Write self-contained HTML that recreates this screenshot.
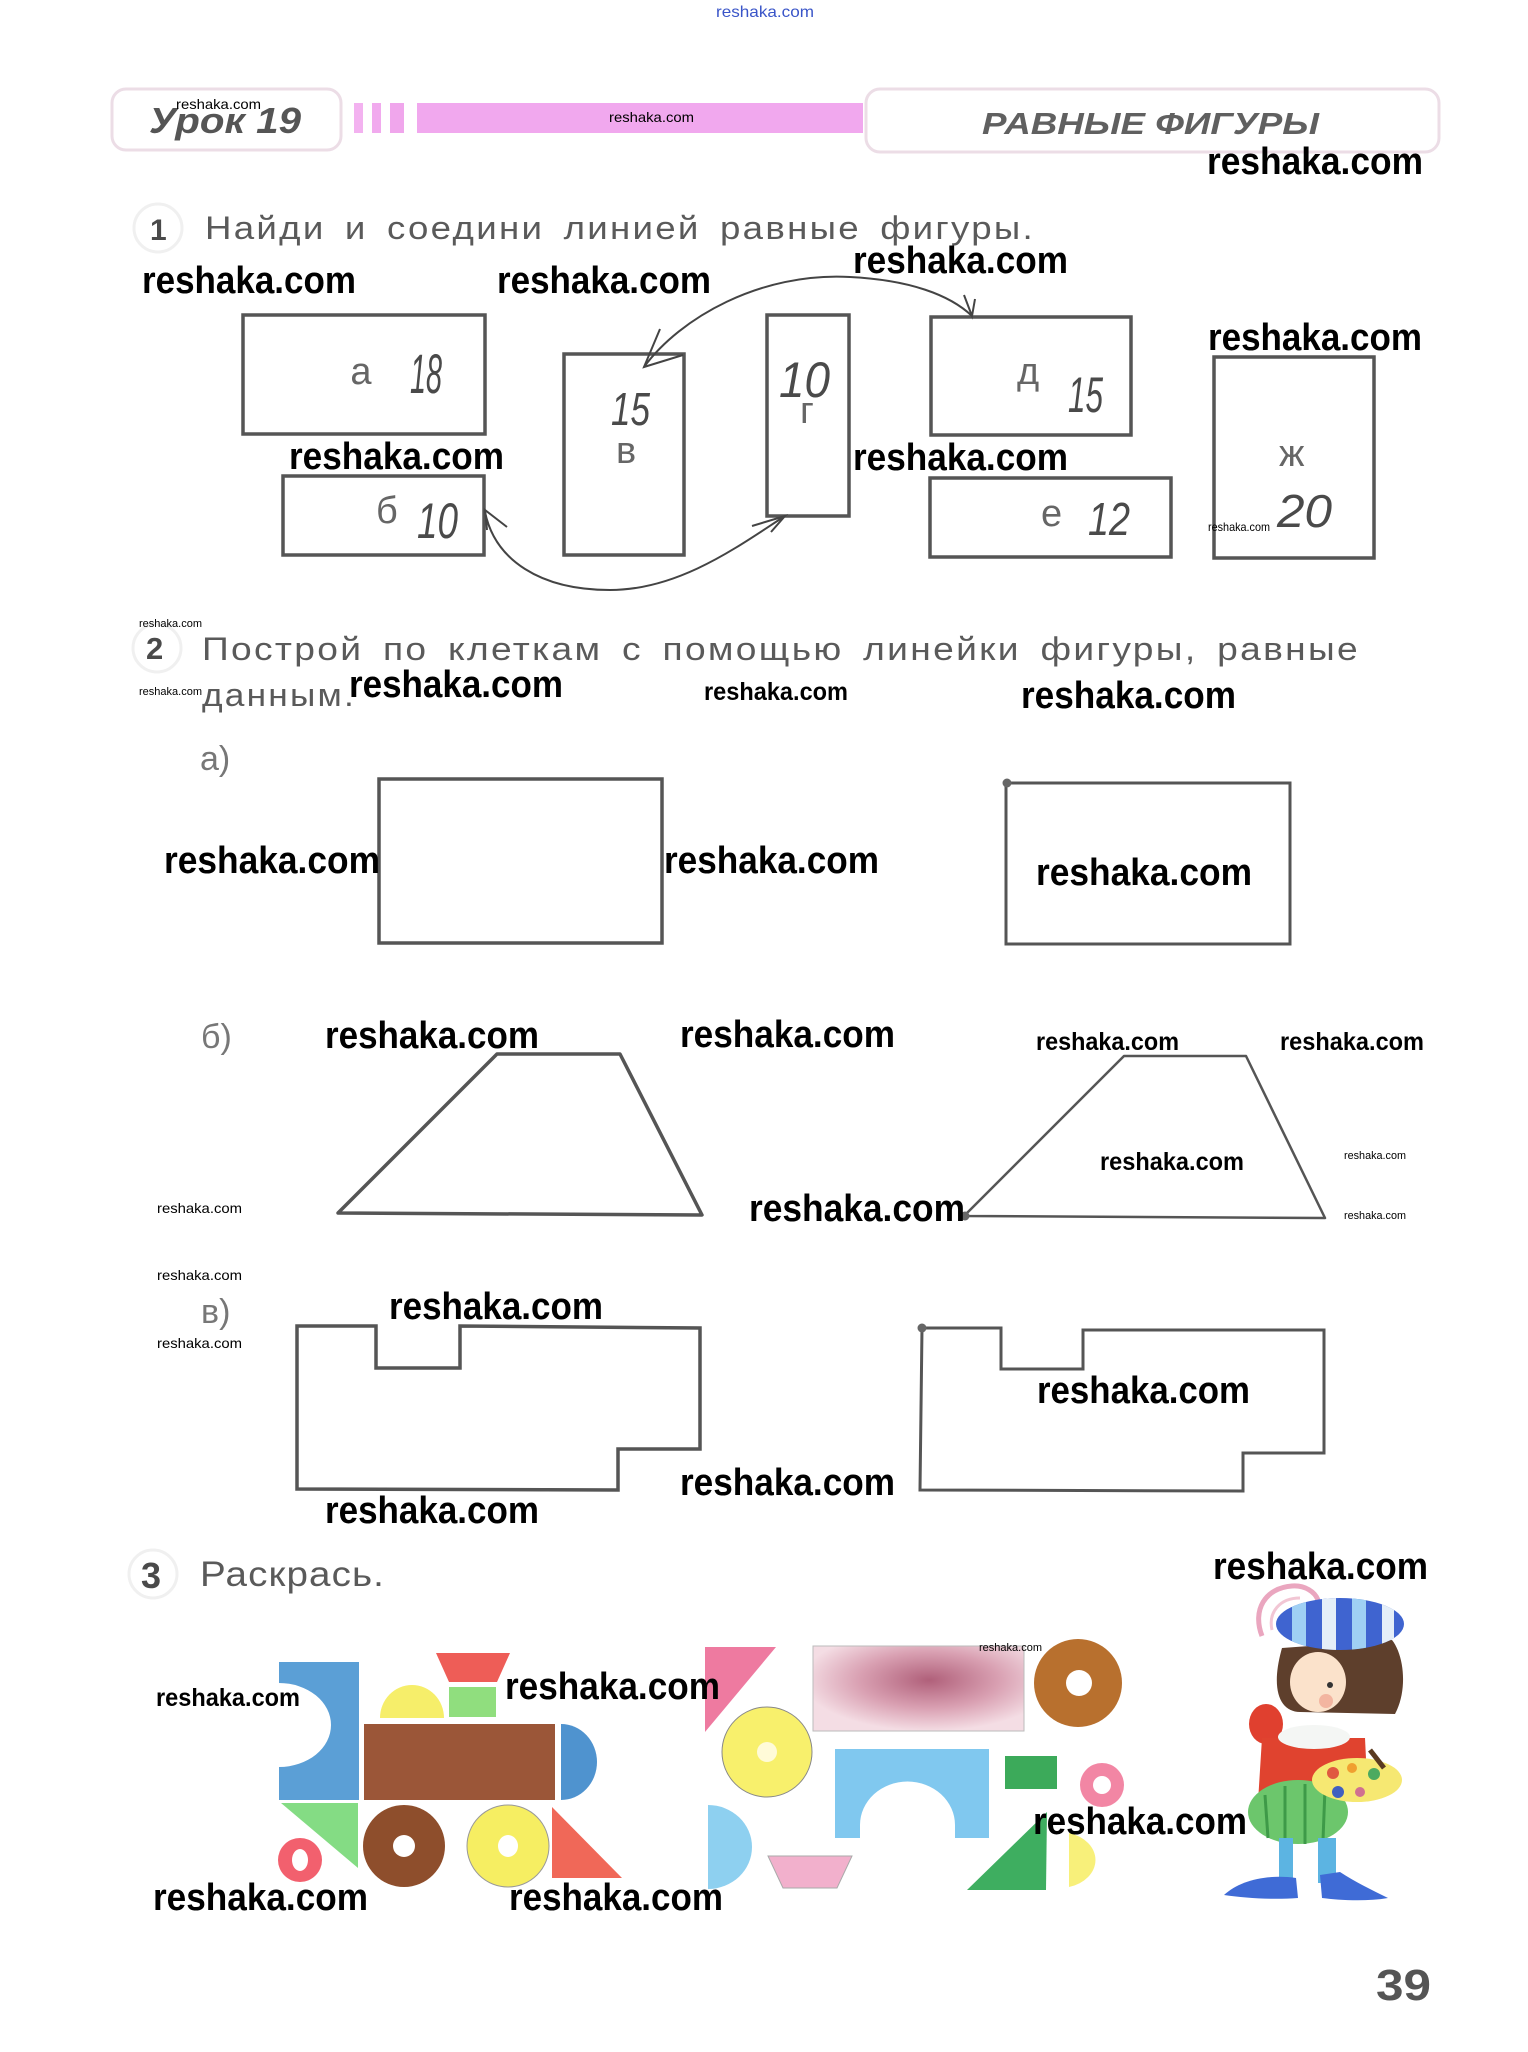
<!DOCTYPE html>
<html><head><meta charset="utf-8"><style>
html,body{margin:0;padding:0;background:#fff;}
svg{display:block;}
.wm{font-family:"Liberation Sans",sans-serif;font-weight:bold;fill:#000;}
.ws{font-family:"Liberation Sans",sans-serif;fill:#000;}
.ru{font-family:"Liberation Sans","Noto Sans CJK SC",sans-serif;fill:#5a5a5a;}
.lt{font-family:"Liberation Sans",sans-serif;fill:#666;}
.hw{font-family:"Liberation Sans",sans-serif;font-style:italic;fill:#4a4a4a;}
</style></head><body>
<svg width="1528" height="2052" viewBox="0 0 1528 2052" xmlns="http://www.w3.org/2000/svg">
<rect width="1528" height="2052" fill="#fff"/>

<!-- top link -->
<text x="716" y="17" class="ws" font-size="16" style="fill:#3a55c8" textLength="98" lengthAdjust="spacingAndGlyphs">reshaka.com</text>

<!-- header -->
<rect x="112" y="89" width="229" height="61" rx="14" fill="#fff" stroke="#ecdde6" stroke-width="3"/>
<rect x="866" y="89" width="573" height="63" rx="14" fill="#fff" stroke="#ecdde6" stroke-width="3"/>
<rect x="354" y="103" width="9" height="30" fill="#f3b2f0"/>
<rect x="372" y="103" width="9" height="30" fill="#f1aaee"/>
<rect x="390" y="103" width="14" height="30" fill="#f0a6ec"/>
<rect x="417" y="103" width="446" height="30" fill="#f1a8ee"/>
<text x="149" y="133" class="ru" font-size="36" font-weight="bold" font-style="italic" style="fill:#555" textLength="152" lengthAdjust="spacingAndGlyphs">Урок 19</text>
<text x="176" y="109" class="ws" font-size="14" textLength="85" lengthAdjust="spacingAndGlyphs">reshaka.com</text>
<text x="609" y="122" class="ws" font-size="14" textLength="85" lengthAdjust="spacingAndGlyphs">reshaka.com</text>
<text x="982" y="134" class="ru" font-size="31" font-weight="bold" font-style="italic" style="fill:#606060" textLength="337" lengthAdjust="spacingAndGlyphs">РАВНЫЕ ФИГУРЫ</text>
<text x="1207" y="174" class="wm" font-size="38" textLength="216" lengthAdjust="spacingAndGlyphs">reshaka.com</text>

<!-- section 1 -->
<circle cx="158" cy="228" r="24" fill="none" stroke="#f0f0f0" stroke-width="3"/>
<text x="150" y="240" class="ru" font-size="30" font-weight="bold" style="fill:#4a4a4a">1</text>
<text x="205" y="239" class="ru" font-size="32" letter-spacing="2" word-spacing="6" textLength="830" lengthAdjust="spacingAndGlyphs">Найди и соедини линией равные фигуры.</text>

<text x="142" y="293" class="wm" font-size="38" textLength="214" lengthAdjust="spacingAndGlyphs">reshaka.com</text>
<text x="497" y="293" class="wm" font-size="38" textLength="214" lengthAdjust="spacingAndGlyphs">reshaka.com</text>
<text x="853" y="273" class="wm" font-size="38" textLength="215" lengthAdjust="spacingAndGlyphs">reshaka.com</text>
<text x="1208" y="350" class="wm" font-size="38" textLength="214" lengthAdjust="spacingAndGlyphs">reshaka.com</text>
<text x="289" y="469" class="wm" font-size="38" textLength="215" lengthAdjust="spacingAndGlyphs">reshaka.com</text>
<text x="853" y="470" class="wm" font-size="38" textLength="215" lengthAdjust="spacingAndGlyphs">reshaka.com</text>

<g fill="none" stroke="#555" stroke-width="3.5">
<rect x="243" y="315" width="242" height="119"/>
<rect x="283" y="476" width="201" height="79"/>
<rect x="564" y="354" width="120" height="201"/>
<rect x="767" y="315" width="82" height="201"/>
<rect x="931" y="317" width="200" height="118"/>
<rect x="930" y="478" width="241" height="79"/>
<rect x="1214" y="357" width="160" height="201"/>
</g>

<text x="361" y="384" class="lt" font-size="38" text-anchor="middle">а</text>
<text x="376" y="523" class="lt" font-size="38">б</text>
<text x="616" y="463" class="lt" font-size="38">в</text>
<text x="800" y="423" class="lt" font-size="38">г</text>
<text x="1017" y="384" class="lt" font-size="38">д</text>
<text x="1041" y="526" class="lt" font-size="38">е</text>
<text x="1279" y="466" class="lt" font-size="38">ж</text>

<text x="410" y="393" class="hw" font-size="56" textLength="32" lengthAdjust="spacingAndGlyphs">18</text>
<text x="611" y="425" class="hw" font-size="46" textLength="39" lengthAdjust="spacingAndGlyphs">15</text>
<text x="417" y="538" class="hw" font-size="50" textLength="41" lengthAdjust="spacingAndGlyphs">10</text>
<text x="779" y="397" class="hw" font-size="50" textLength="51" lengthAdjust="spacingAndGlyphs">10</text>
<text x="1068" y="412" class="hw" font-size="50" textLength="35" lengthAdjust="spacingAndGlyphs">15</text>
<text x="1088" y="535" class="hw" font-size="46" textLength="42" lengthAdjust="spacingAndGlyphs">12</text>
<text x="1277" y="527" class="hw" font-size="46" textLength="55" lengthAdjust="spacingAndGlyphs">20</text>
<text x="1208" y="531" class="ws" font-size="12" textLength="62" lengthAdjust="spacingAndGlyphs">reshaka.com</text>

<!-- connectors -->
<g fill="none" stroke="#444" stroke-width="2">
<path d="M644,367 C680,318 760,272 850,277 C910,280 950,295 972,316"/>
<path d="M660,329 L644,367 L683,355"/>
<path d="M964,295 L972,316 L975,299"/>
<path d="M485,512 C495,560 540,590 610,590 C680,590 740,545 785,516"/>
<path d="M507,527 L485,510 L487,530"/>
<path d="M752,526 L785,516 L771,532"/>
</g>

<!-- section 2 -->
<circle cx="157" cy="648" r="24" fill="none" stroke="#f0f0f0" stroke-width="3"/>
<text x="146" y="659" class="ru" font-size="31" font-weight="bold" style="fill:#4a4a4a">2</text>
<text x="202" y="660" class="ru" font-size="32" letter-spacing="2" word-spacing="6" textLength="1158" lengthAdjust="spacingAndGlyphs">Построй по клеткам с помощью линейки фигуры, равные</text>
<text x="202" y="706" class="ru" font-size="32" letter-spacing="2" textLength="154" lengthAdjust="spacingAndGlyphs">данным.</text>
<text x="139" y="627" class="ws" font-size="11" textLength="63" lengthAdjust="spacingAndGlyphs">reshaka.com</text>
<text x="139" y="695" class="ws" font-size="11" textLength="63" lengthAdjust="spacingAndGlyphs">reshaka.com</text>
<text x="349" y="697" class="wm" font-size="38" textLength="214" lengthAdjust="spacingAndGlyphs">reshaka.com</text>
<text x="704" y="700" class="wm" font-size="25" textLength="144" lengthAdjust="spacingAndGlyphs">reshaka.com</text>
<text x="1021" y="708" class="wm" font-size="38" textLength="215" lengthAdjust="spacingAndGlyphs">reshaka.com</text>

<text x="200" y="770" class="lt" font-size="34" style="fill:#777">а)</text>
<g fill="none" stroke="#555" stroke-width="3.5">
<rect x="379" y="779" width="283" height="164"/>
</g>
<g fill="none" stroke="#555" stroke-width="3">
<rect x="1006" y="783" width="284" height="161"/>
</g>
<circle cx="1007" cy="783" r="4.5" fill="#666"/>
<text x="164" y="873" class="wm" font-size="38" textLength="216" lengthAdjust="spacingAndGlyphs">reshaka.com</text>
<text x="664" y="873" class="wm" font-size="38" textLength="215" lengthAdjust="spacingAndGlyphs">reshaka.com</text>
<text x="1036" y="885" class="wm" font-size="38" textLength="216" lengthAdjust="spacingAndGlyphs">reshaka.com</text>

<text x="201" y="1048" class="lt" font-size="34" style="fill:#777">б)</text>
<polygon points="497,1054 620,1054 702,1215 338,1213" fill="none" stroke="#555" stroke-width="3.5" stroke-linejoin="round"/>
<polygon points="1124,1056 1246,1056 1325,1218 964,1216" fill="none" stroke="#555" stroke-width="2.5" stroke-linejoin="round"/>
<circle cx="965" cy="1216" r="4.5" fill="#666"/>
<text x="325" y="1048" class="wm" font-size="38" textLength="214" lengthAdjust="spacingAndGlyphs">reshaka.com</text>
<text x="680" y="1047" class="wm" font-size="38" textLength="215" lengthAdjust="spacingAndGlyphs">reshaka.com</text>
<text x="1036" y="1050" class="wm" font-size="25" textLength="143" lengthAdjust="spacingAndGlyphs">reshaka.com</text>
<text x="1280" y="1050" class="wm" font-size="25" textLength="144" lengthAdjust="spacingAndGlyphs">reshaka.com</text>
<text x="1100" y="1170" class="wm" font-size="25" textLength="144" lengthAdjust="spacingAndGlyphs">reshaka.com</text>
<text x="1344" y="1159" class="ws" font-size="11" textLength="62" lengthAdjust="spacingAndGlyphs">reshaka.com</text>
<text x="1344" y="1219" class="ws" font-size="11" textLength="62" lengthAdjust="spacingAndGlyphs">reshaka.com</text>
<text x="157" y="1213" class="ws" font-size="14" textLength="85" lengthAdjust="spacingAndGlyphs">reshaka.com</text>
<text x="749" y="1221" class="wm" font-size="38" textLength="216" lengthAdjust="spacingAndGlyphs">reshaka.com</text>

<text x="157" y="1280" class="ws" font-size="14" textLength="85" lengthAdjust="spacingAndGlyphs">reshaka.com</text>
<text x="201" y="1323" class="lt" font-size="34" style="fill:#777">в)</text>
<text x="157" y="1348" class="ws" font-size="14" textLength="85" lengthAdjust="spacingAndGlyphs">reshaka.com</text>
<polygon points="297,1326 376,1326 376,1368 460,1368 460,1326 700,1328 700,1449 618,1449 618,1490 297,1489" fill="none" stroke="#555" stroke-width="3.5"/>
<polygon points="922,1328 1001,1328 1001,1369 1083,1369 1083,1330 1324,1330 1324,1453 1243,1453 1243,1491 920,1490" fill="none" stroke="#555" stroke-width="3"/>
<circle cx="922" cy="1328" r="4.5" fill="#666"/>
<text x="389" y="1319" class="wm" font-size="38" textLength="214" lengthAdjust="spacingAndGlyphs">reshaka.com</text>
<text x="1037" y="1403" class="wm" font-size="38" textLength="213" lengthAdjust="spacingAndGlyphs">reshaka.com</text>
<text x="680" y="1495" class="wm" font-size="38" textLength="215" lengthAdjust="spacingAndGlyphs">reshaka.com</text>
<text x="325" y="1523" class="wm" font-size="38" textLength="214" lengthAdjust="spacingAndGlyphs">reshaka.com</text>

<!-- section 3 -->
<circle cx="153" cy="1574" r="24" fill="none" stroke="#f0f0f0" stroke-width="3"/>
<text x="141" y="1588" class="ru" font-size="36" font-weight="bold" style="fill:#4a4a4a">3</text>
<text x="200" y="1586" class="ru" font-size="35" letter-spacing="1" textLength="185" lengthAdjust="spacingAndGlyphs">Раскрась.</text>
<text x="1213" y="1579" class="wm" font-size="38" textLength="215" lengthAdjust="spacingAndGlyphs">reshaka.com</text>

<!-- train -->
<path d="M279,1662 L359,1662 L359,1800 L279,1800 L279,1767 A52,42 0 0 0 279,1683 Z" fill="#5b9fd6"/>
<polygon points="436,1653 510,1653 497,1682 449,1682" fill="#ee5d57"/>
<rect x="449" y="1687" width="47" height="30" fill="#90de7e"/>
<path d="M380,1718 A32,33 0 0 1 444,1718 Z" fill="#f6ee6a"/>
<rect x="364" y="1724" width="191" height="76" fill="#9b5638"/>
<path d="M561,1724 A36,38 0 0 1 561,1800 Z" fill="#4f93cf"/>
<polygon points="281,1803 358,1803 358,1868" fill="#84dc84"/>
<ellipse cx="300" cy="1860" rx="22" ry="22" fill="#f2606e"/>
<ellipse cx="300" cy="1860" rx="8" ry="11" fill="#fff"/>
<circle cx="404" cy="1846" r="41" fill="#8e4e2c"/>
<circle cx="404" cy="1846" r="11" fill="#fff"/>
<circle cx="508" cy="1846" r="41" fill="#f6ee62" stroke="#999" stroke-width="1"/>
<ellipse cx="508" cy="1846" rx="10" ry="11" fill="#fff"/>
<polygon points="552,1807 552,1878 622,1878" fill="#f06858"/>

<!-- middle shapes -->
<polygon points="705,1647 776,1647 705,1732" fill="#ee7aa0"/>
<defs>
<radialGradient id="mauve" cx="0.55" cy="0.4" r="0.6">
<stop offset="0" stop-color="#b0607a"/>
<stop offset="0.55" stop-color="#d9a0b2"/>
<stop offset="1" stop-color="#f4dde4"/>
</radialGradient>
</defs>
<rect x="813" y="1646" width="211" height="85" fill="url(#mauve)" stroke="#bbb" stroke-width="1"/>
<text x="979" y="1651" class="ws" font-size="11" textLength="63" lengthAdjust="spacingAndGlyphs">reshaka.com</text>
<circle cx="1078" cy="1683" r="44" fill="#b8702e"/>
<circle cx="1079" cy="1683" r="13" fill="#fff"/>
<circle cx="767" cy="1752" r="45" fill="#f8f06c" stroke="#888" stroke-width="1"/>
<circle cx="767" cy="1752" r="10" fill="#fffbd8"/>
<path d="M835,1749 L989,1749 L989,1838 L955,1838 L955,1825 A47,43 0 0 0 860,1825 L860,1838 L835,1838 Z" fill="#80c8ef"/>
<rect x="1005" y="1756" width="52" height="33" fill="#3caa5a"/>
<circle cx="1102" cy="1785" r="22" fill="#f286a4"/>
<circle cx="1102" cy="1785" r="9" fill="#fff"/>
<path d="M708,1805 A44,42 0 0 1 708,1889 Z" fill="#8ed0f0"/>
<polygon points="768,1856 852,1856 837,1888 783,1888" fill="#f2b0cc" stroke="#aaa" stroke-width="1"/>
<polygon points="1047,1812 1046,1890 967,1890" fill="#3eae60"/>
<path d="M1069,1833 A36,28 0 0 1 1069,1887 Z" fill="#f8f07a"/>

<text x="156" y="1706" class="wm" font-size="25" textLength="144" lengthAdjust="spacingAndGlyphs">reshaka.com</text>
<text x="505" y="1699" class="wm" font-size="38" textLength="215" lengthAdjust="spacingAndGlyphs">reshaka.com</text>
<text x="1033" y="1834" class="wm" font-size="38" textLength="214" lengthAdjust="spacingAndGlyphs">reshaka.com</text>
<text x="153" y="1910" class="wm" font-size="38" textLength="215" lengthAdjust="spacingAndGlyphs">reshaka.com</text>
<text x="509" y="1910" class="wm" font-size="38" textLength="214" lengthAdjust="spacingAndGlyphs">reshaka.com</text>

<!-- boy -->
<g>
<path d="M1262,1636 C1252,1610 1265,1588 1292,1586 C1305,1585 1315,1592 1318,1600" fill="none" stroke="#eaa6bf" stroke-width="5"/>
<path d="M1272,1630 C1268,1612 1280,1598 1300,1598" fill="none" stroke="#f2c6d4" stroke-width="3"/>
<path d="M1282,1648 C1270,1690 1280,1712 1300,1712 L1395,1714 C1408,1690 1404,1655 1392,1640 Z" fill="#5e3f2c"/>
<ellipse cx="1318" cy="1682" rx="28" ry="30" fill="#fbe2cb"/>
<circle cx="1330" cy="1685" r="3" fill="#333"/>
<circle cx="1326" cy="1701" r="7" fill="#f3b5a0"/>
<defs><clipPath id="hat"><ellipse cx="1340" cy="1624" rx="64" ry="26"/></clipPath></defs>
<g clip-path="url(#hat)">
<rect x="1270" y="1595" width="140" height="60" fill="#3f64d0"/>
<rect x="1292" y="1595" width="14" height="60" fill="#9fd0f4"/>
<rect x="1322" y="1595" width="14" height="60" fill="#e4eef8"/>
<rect x="1352" y="1595" width="14" height="60" fill="#9fd0f4"/>
<rect x="1382" y="1595" width="12" height="60" fill="#e4eef8"/>
</g>
<ellipse cx="1266" cy="1724" rx="17" ry="20" fill="#e0402f"/>
<path d="M1262,1738 L1365,1738 L1368,1800 L1258,1802 Z" fill="#e0432f"/>
<ellipse cx="1314" cy="1737" rx="36" ry="12" fill="#f4f6f4"/>
<ellipse cx="1298" cy="1812" rx="50" ry="32" fill="#6cc66c"/>
<path d="M1265,1795 L1268,1838 M1285,1786 L1285,1843 M1305,1784 L1305,1844 M1325,1788 L1323,1840" stroke="#3e9a48" stroke-width="3" fill="none"/>
<ellipse cx="1357" cy="1780" rx="45" ry="22" fill="#f6e872"/>
<circle cx="1333" cy="1773" r="6" fill="#e05a40"/>
<circle cx="1352" cy="1768" r="5" fill="#f0a030"/>
<circle cx="1374" cy="1774" r="6" fill="#4caa60"/>
<circle cx="1338" cy="1792" r="6" fill="#4060c0"/>
<circle cx="1360" cy="1792" r="5" fill="#d07090"/>
<path d="M1370,1750 L1384,1768" stroke="#5a3a20" stroke-width="5"/>
<rect x="1279" y="1838" width="14" height="50" fill="#5cb4e2"/>
<rect x="1318" y="1838" width="18" height="45" fill="#5cb4e2"/>
<path d="M1224,1895 C1240,1880 1268,1874 1296,1878 L1298,1898 C1272,1900 1245,1898 1224,1895 Z" fill="#3f6bd6"/>
<path d="M1320,1875 L1340,1872 C1355,1882 1372,1890 1388,1898 C1365,1902 1338,1900 1322,1898 Z" fill="#3f6bd6"/>
</g>

<!-- page number -->
<text x="1376" y="2000" class="ru" font-size="44" font-weight="bold" style="fill:#555" textLength="55" lengthAdjust="spacingAndGlyphs">39</text>
</svg>
</body></html>
